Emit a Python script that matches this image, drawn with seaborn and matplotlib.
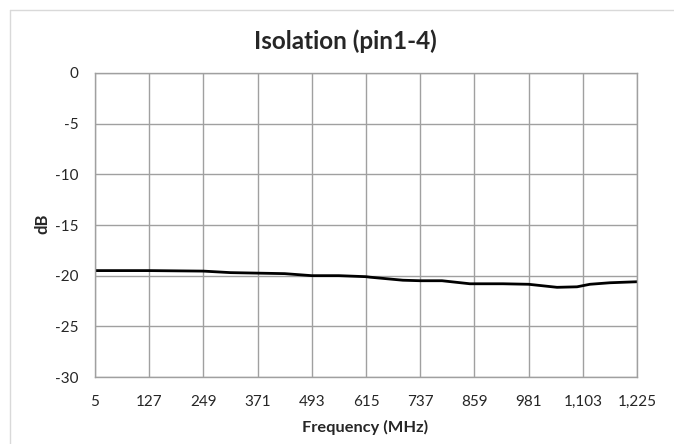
"""
Isolation (pin1-4) sweep: dB vs frequency, Excel-style line chart.
"""
import matplotlib
matplotlib.use("Agg")
import matplotlib.pyplot as plt
from matplotlib.lines import Line2D
import pandas as pd
import seaborn as sns

# values
freq_mhz = [5, 127, 249, 310, 371, 432, 493, 554, 615, 624, 698, 737, 786,
            849, 923, 981, 1045, 1090, 1119, 1164, 1225]
isolation_db = [-19.5, -19.5, -19.55, -19.7, -19.75, -19.8, -20.0, -20.0, -20.1,
                -20.15, -20.45, -20.5, -20.5, -20.8, -20.8, -20.85, -21.15, -21.1,
                -20.85, -20.7, -20.6]

x_ticks = [5, 127, 249, 371, 493, 615, 737, 859, 981, 1103, 1225]
y_ticks = [0, -5, -10, -15, -20, -25, -30]

GRID = "#A0A0A0"

sns.set_theme(style="white")
plt.rcParams["font.family"] = ["Lato", "DejaVu Sans"]

df = pd.DataFrame({"freq": freq_mhz, "db": isolation_db})

fig = plt.figure(figsize=(6.74, 4.44), dpi=100)
W, H = 674, 444
ax = fig.add_axes([95 / W, (H - 377) / H, 542 / W, 304 / H])

sns.lineplot(data=df, x="freq", y="db", ax=ax, color="black", linewidth=2.0)

ax.set_xlim(x_ticks[0], x_ticks[-1])
ax.set_ylim(-30, 0)
ax.set_xticks(x_ticks)
ax.set_xticklabels([f"{t:,}" for t in x_ticks])
ax.set_yticks(y_ticks)
ax.set_yticklabels([str(t) for t in y_ticks])
ax.grid(True, color=GRID, linewidth=1.0)
ax.set_axisbelow(True)
for s in ax.spines.values():
    s.set_color(GRID)
    s.set_linewidth(1.0)
ax.tick_params(axis="y", length=4, color=GRID, width=1.0, pad=8, labelsize=11)
ax.tick_params(axis="x", length=0, pad=13, labelsize=11)
ax.set_xlabel("")
ax.set_ylabel("")

fig.text(345 / W, 1 - 41 / H, "Isolation (pin1-4)", ha="center", va="center",
         fontsize=17.5, fontweight="bold")
fig.text(365 / W, 1 - 427 / H, "Frequency (MHz)", ha="center", va="center",
         fontsize=11.8, fontweight="bold")
fig.text(42 / W, 1 - 224 / H, "dB", ha="center", va="center", rotation=90,
         fontsize=12, fontweight="bold")

# light chart-area border (left and top visible in the crop)
fig.add_artist(Line2D([10 / W, 10 / W], [0, 1 - 10 / H], transform=fig.transFigure,
                      color="#D9D9D9", linewidth=1.0))
fig.add_artist(Line2D([10 / W, 1], [1 - 10 / H, 1 - 10 / H], transform=fig.transFigure,
                      color="#D9D9D9", linewidth=1.0))

fig.savefig("out.png", dpi=100)
plt.close(fig)
